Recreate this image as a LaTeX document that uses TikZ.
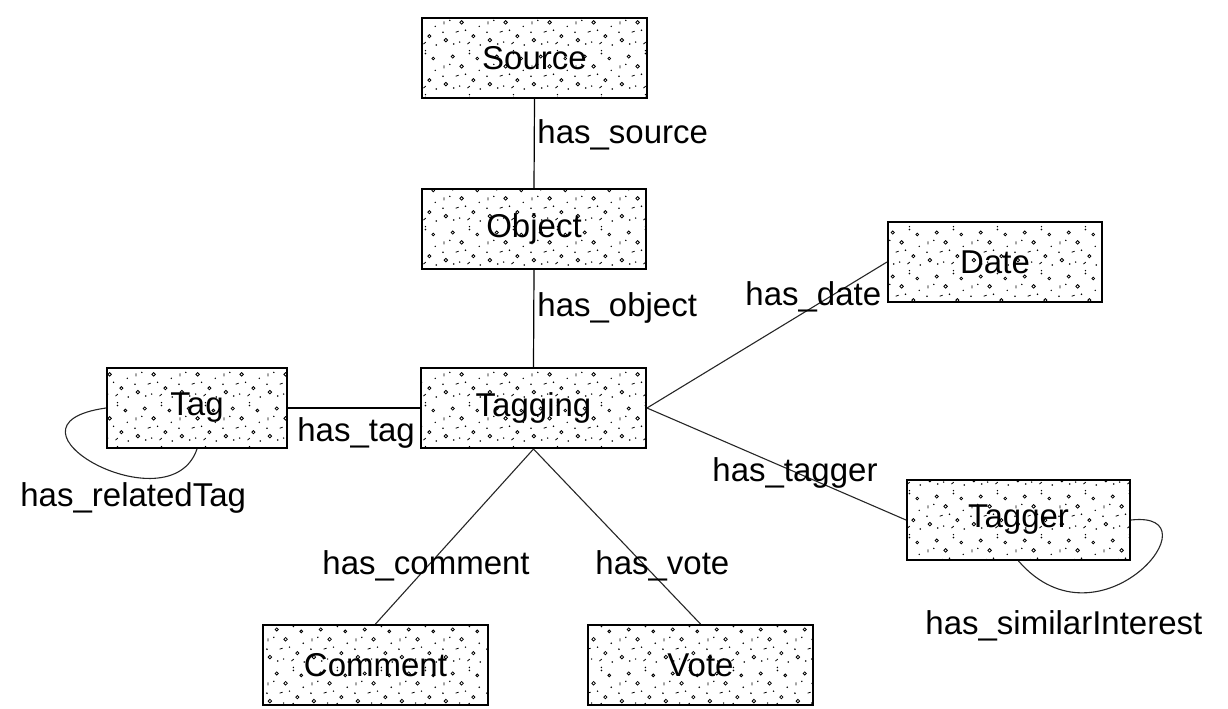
\documentclass[tikz,border=0pt]{standalone}
\usepackage{fontspec}
\setmainfont{Liberation Sans}
\usetikzlibrary{patterns.meta}

% sparse stipple of small rings, dashes and specks used inside the class boxes
\pgfdeclarepattern{
  name=stipple,
  type=uncolored,
  bottom left={\pgfpoint{0pt}{0pt}},
  top right={\pgfpoint{22pt}{22pt}},
  tile size={\pgfpoint{22pt}{22pt}},
  code={
    \pgfsetlinewidth{0.4pt}
    \pgfpathcircle{\pgfpoint{3pt}{4pt}}{0.9pt}
    \pgfpathcircle{\pgfpoint{11pt}{13pt}}{0.9pt}
    \pgfpathcircle{\pgfpoint{17pt}{6pt}}{0.8pt}
    \pgfpathcircle{\pgfpoint{6.5pt}{18pt}}{0.8pt}
    \pgfpathcircle{\pgfpoint{19pt}{17pt}}{0.7pt}
    \pgfpathmoveto{\pgfpoint{8pt}{8pt}}\pgfpathlineto{\pgfpoint{9.5pt}{8.5pt}}
    \pgfpathmoveto{\pgfpoint{14pt}{2pt}}\pgfpathlineto{\pgfpoint{15.2pt}{3pt}}
    \pgfpathmoveto{\pgfpoint{2pt}{12pt}}\pgfpathlineto{\pgfpoint{2pt}{13.5pt}}
    \pgfusepath{stroke}
    \pgfpathcircle{\pgfpoint{7pt}{2pt}}{0.45pt}
    \pgfpathcircle{\pgfpoint{1.5pt}{8pt}}{0.45pt}
    \pgfpathcircle{\pgfpoint{13pt}{9pt}}{0.4pt}
    \pgfpathcircle{\pgfpoint{20.5pt}{1.5pt}}{0.45pt}
    \pgfpathcircle{\pgfpoint{15pt}{19.5pt}}{0.45pt}
    \pgfpathcircle{\pgfpoint{15pt}{21pt}}{0.4pt}
    \pgfpathcircle{\pgfpoint{20pt}{11pt}}{0.4pt}
    \pgfpathcircle{\pgfpoint{10pt}{3pt}}{0.4pt}
    \pgfpathcircle{\pgfpoint{5pt}{14pt}}{0.4pt}
    \pgfusepath{fill}
  }
}

\tikzset{
  classbox/.style={draw, line width=1pt, pattern=stipple, pattern color=black,
    minimum height=40pt, inner sep=0pt, font=\fontsize{16.5}{20}\selectfont},
  rel/.style={inner sep=0pt, anchor=west, font=\fontsize{16.5}{20}\selectfont},
  link/.style={line width=0.6pt},
  diag/.style={line width=0.55pt, black!85},
}

\begin{document}
\begin{tikzpicture}[x=0.5pt, y=-0.5pt]
\useasboundingbox (0,0) rectangle (1228,708);

% classes
\node[classbox, minimum width=112.5pt] (source)  at (534.5,58)  {Source};
\node[classbox, minimum width=112pt]   (object)  at (534,229)   {Object};
\node[classbox, minimum width=107pt]   (date)    at (995,262)   {Date};
\node[classbox, minimum width=90pt]    (tag)     at (197,408)   {Tag};
\node[classbox, minimum width=112.5pt] (tagging) at (533.5,408) {Tagging};
\node[classbox, minimum width=111.5pt] (tagger)  at (1018.5,520){Tagger};
\node[classbox, minimum width=112.5pt] (comment) at (375.5,665) {Comment};
\node[classbox, minimum width=112.5pt] (vote)    at (700.5,665) {Vote};

% relations
\draw[link] (source.south) -- (object.north);
\draw[link] (object.south) -- (tagging.north);
\draw[link] (tag.east) -- (tagging.west);
\draw[diag] (tagging.east) -- (date.west);
\draw[diag] (tagging.east) -- (tagger.west);
\draw[diag] (tagging.south) -- (comment.north);
\draw[diag] (tagging.south) -- (vote.north);

% self relations
\draw[diag] (tag.west) .. controls (-15,425) and (170,528) .. (tag.south);
\draw[diag] (tagger.east) .. controls (1220,510) and (1100,655) .. (tagger.south);

% relation labels
\node[rel] (lsource)  at (537,135) {has\_source};
\node[rel] (lobject)  at (537,308) {has\_object};
\node[rel] (ldate)    at (745,297) {has\_date};
\node[rel] (ltag)     at (297,433) {has\_tag};
\node[rel] (lrelated) at (20,498)  {has\_relatedTag};
\node[rel] (ltagger)  at (712,473) {has\_tagger};
\node[rel] (lcomment) at (322,566) {has\_comment};
\node[rel] (lvote)    at (595,566) {has\_vote};
\node[rel] (lsimilar) at (925,626) {has\_similarInterest};
\end{tikzpicture}
\end{document}
